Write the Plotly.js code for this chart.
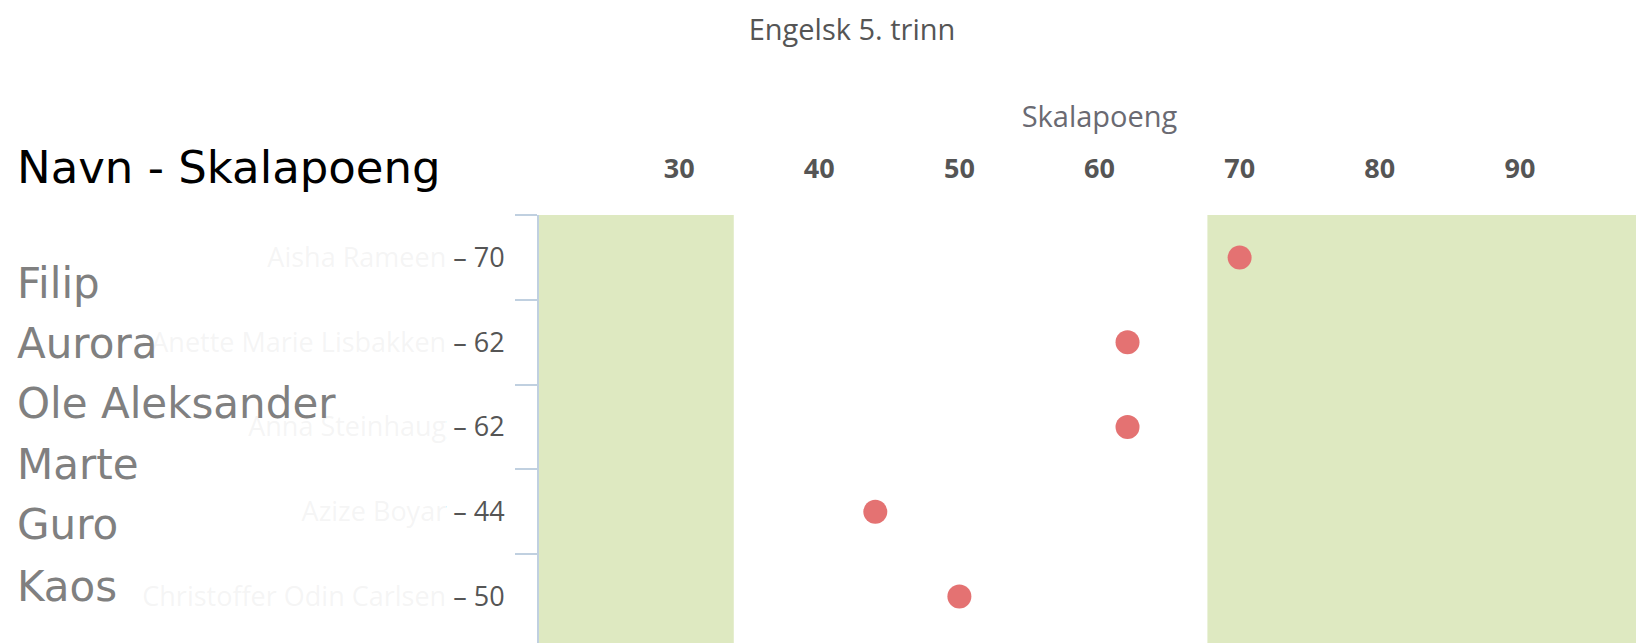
<!DOCTYPE html>
<html>
<head>
<meta charset="utf-8">
<script src="https://cdn.plot.ly/plotly-3.0.1.min.js"></script>
<style>
html,body{margin:0;padding:0;overflow:hidden;background:#fff;}
#chart{width:1660px;height:643px;}
</style>
</head>
<body>
<div id="chart"></div>
<script>
// ---- data ----
var chartTitle = "Engelsk 5. trinn";
var xTitle = "Skalapoeng";
var students = ["Aisha Rameen", "Anette Marie Lisbakken", "Anna Steinhaug", "Azize Boyar", "Christoffer Odin Carlsen"];
var scores = [70, 62, 62, 44, 50];
var xTicks = [30, 40, 50, 60, 70, 80, 90];
var bandLow = [20, 33.9];
var bandHigh = [67.7, 100];
var overlayHeading = "Navn - Skalapoeng";
var overlayNames = ["Filip", "Aurora", "Ole Aleksander", "Marte", "Guro", "Kaos"];

// ---- build ----
var W = 1660, H = 643, L = 539, T = 215;
var plotW = W - L, plotH = H - T;
function px2x(px){ return (px - L) / plotW; }
function py2y(py){ return (H - py) / plotH; }

var labels = students.map(function(n, i){ return n + " \u2013 " + scores[i]; });

var trace = {
  type: "scatter",
  mode: "markers",
  x: scores,
  y: labels,
  marker: {color: "rgb(228,114,114)", size: 24, line: {width: 0}},
  hoverinfo: "x+y"
};

var greyBlue = "#C0D0E0";
var band = "rgb(222,233,193)";

var shapes = [
  {type: "rect", xref: "x", yref: "paper", x0: bandLow[0], x1: bandLow[1], y0: 0, y1: 1,
   fillcolor: band, line: {width: 0}, layer: "below"},
  {type: "rect", xref: "x", yref: "paper", x0: bandHigh[0], x1: bandHigh[1], y0: 0, y1: 1,
   fillcolor: band, line: {width: 0}, layer: "below"},
  // semi-opaque white cover over the original names
  {type: "rect", xref: "paper", yref: "paper", x0: px2x(0), x1: px2x(446), y0: py2y(660), y1: py2y(222),
   fillcolor: "rgba(255,255,255,0.94)", line: {width: 0}, layer: "above"}
];

var nameMid = [283, 343.5, 403.5, 464, 524.5, 586];
var annotations = [{
  text: overlayHeading, xref: "paper", yref: "paper", x: px2x(15), y: py2y(167),
  xanchor: "left", yanchor: "middle", showarrow: false,
  font: {family: "DejaVu Sans", size: 45, color: "#000000"}
}];
overlayNames.forEach(function(n, i){
  annotations.push({
    text: n, xref: "paper", yref: "paper", x: px2x(15), y: py2y(nameMid[i]),
    xanchor: "left", yanchor: "middle", showarrow: false,
    font: {family: "DejaVu Sans", size: 42, color: "#808080"}
  });
});

var layout = {
  width: W, height: H,
  margin: {l: L, r: 0, t: T, b: 0, pad: 0},
  paper_bgcolor: "#ffffff",
  plot_bgcolor: "rgba(0,0,0,0)",
  showlegend: false,
  title: {
    text: chartTitle, x: 852 / W, xref: "container", xanchor: "center",
    y: 1 - 30 / H, yref: "container", yanchor: "middle",
    font: {family: "Open Sans", size: 29, color: "#555555"}
  },
  xaxis: {
    side: "top", range: [20, 100], tickvals: xTicks, ticktext: xTicks.map(String),
    showgrid: false, zeroline: false, showline: false, ticks: "",
    ticklabelstandoff: 31,
    tickfont: {family: "Open Sans", size: 27, color: "#555555", weight: "bold"},
    title: {text: xTitle, standoff: 12, font: {family: "Open Sans", size: 29, color: "#6a6a72"}},
    fixedrange: true
  },
  yaxis: {
    type: "category", categoryorder: "array", categoryarray: labels,
    range: [-0.5 + plotH / 84.8, -0.5],
    showgrid: false, zeroline: false,
    showline: true, linecolor: greyBlue, linewidth: 2,
    ticks: "outside", ticklen: 22, tickwidth: 2, tickcolor: greyBlue, tickson: "boundaries",
    ticklabelstandoff: 27,
    tickfont: {family: "Open Sans", size: 27, color: "#555555"},
    fixedrange: true
  },
  shapes: shapes,
  annotations: annotations
};

Plotly.newPlot("chart", [trace], layout, {displayModeBar: false, staticPlot: true});
</script>
</body>
</html>
